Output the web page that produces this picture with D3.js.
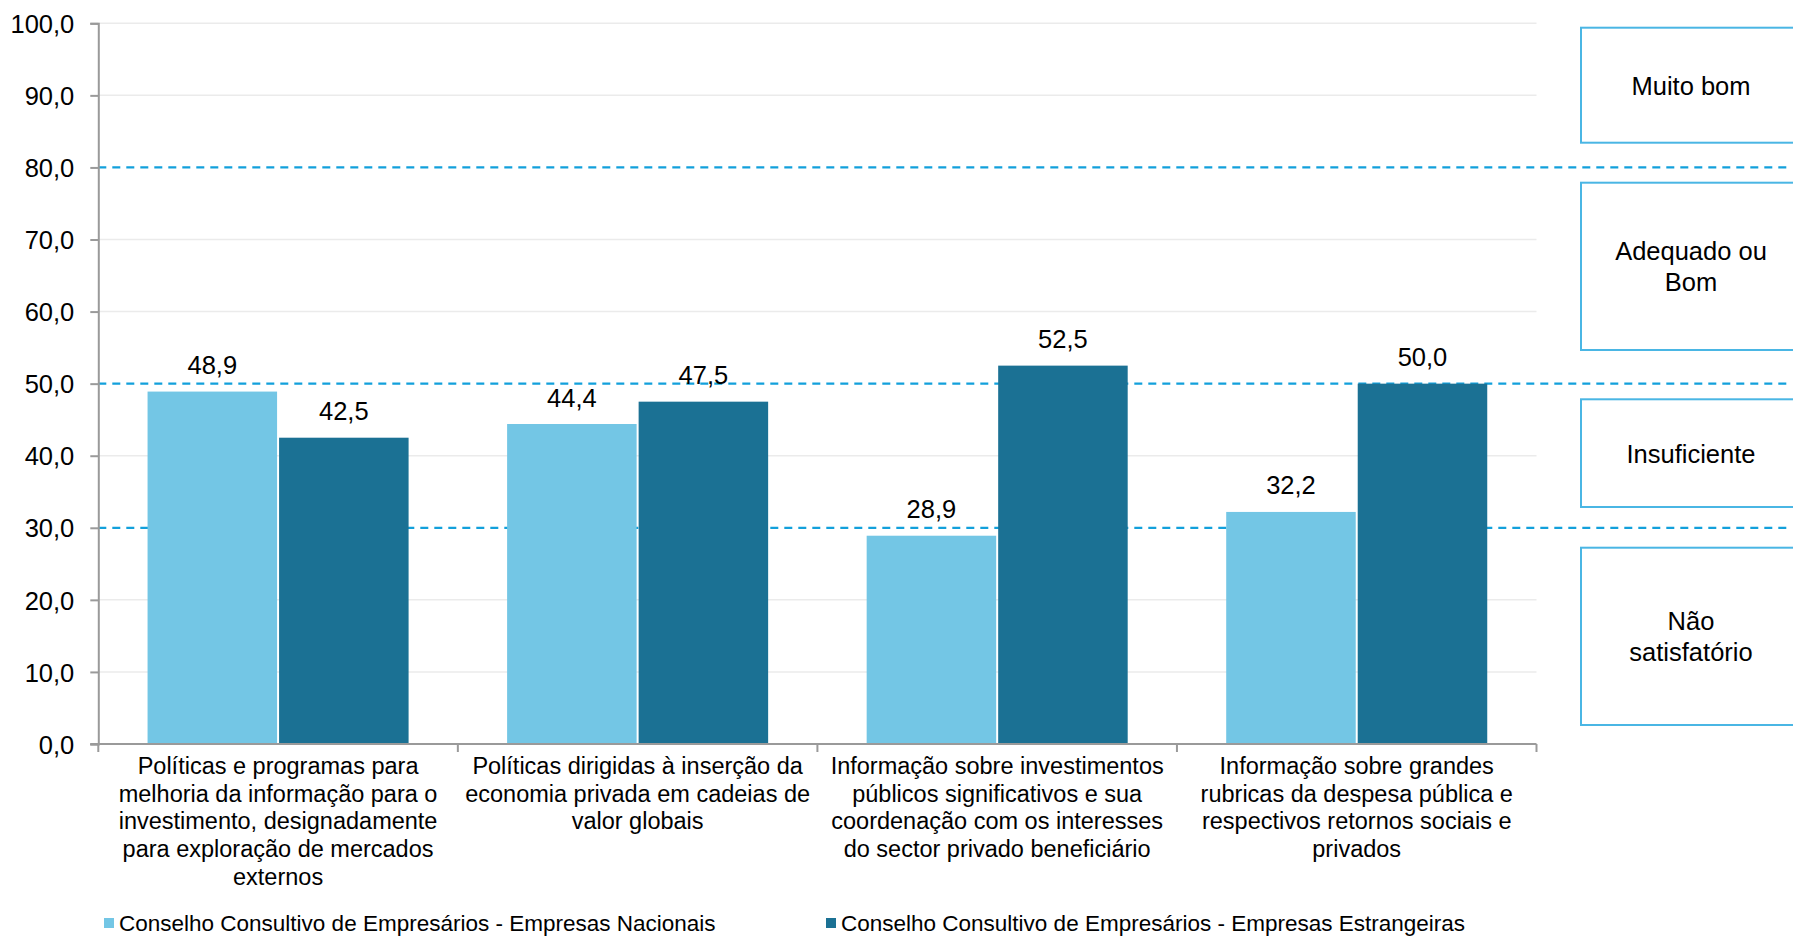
<!DOCTYPE html>
<html>
<head>
<meta charset="utf-8">
<script src="https://cdn.jsdelivr.net/npm/d3@7/dist/d3.min.js"></script>
<style>
  html, body { margin: 0; padding: 0; background: #fff; }
  svg { display: block; font-family: "Liberation Sans", Arial, sans-serif; }
</style>
</head>
<body>
<svg id="chart" width="1793" height="936"></svg>
<script>
// ---- data ----
const categories = [
  ["Políticas e programas para", "melhoria da informação para o", "investimento, designadamente", "para exploração de mercados", "externos"],
  ["Políticas dirigidas à inserção da", "economia privada em cadeias de", "valor globais"],
  ["Informação sobre investimentos", "públicos significativos e sua", "coordenação com os interesses", "do sector privado beneficiário"],
  ["Informação sobre grandes", "rubricas da despesa pública e", "respectivos retornos sociais e", "privados"]
];
const seriesNames = [
  "Conselho Consultivo de Empresários - Empresas Nacionais",
  "Conselho Consultivo de Empresários - Empresas Estrangeiras"
];
const nacionais = [48.9, 44.4, 28.9, 32.2];
const estrangeiras = [42.5, 47.5, 52.5, 50.0];
const yTicks = [0, 10, 20, 30, 40, 50, 60, 70, 80, 90, 100];
const thresholds = [30, 50, 80];
const ratingLabels = [["Muito bom"], ["Adequado ou", "Bom"], ["Insuficiente"], ["Não", "satisfatório"]];

// ---- layout ----
const colors = ["#73C6E5", "#1B7194"];
const plotL = 98.3, plotR = 1536.5, plotT = 23.3, plotB = 744;
const svg = d3.select("#chart");

const locale = d3.formatLocale({decimal: ",", thousands: ".", grouping: [3], currency: ["", "€"]});
const fmt = locale.format(".1f");

const y = d3.scaleLinear().domain([0, 100]).range([plotB, plotT]);
const x0 = d3.scaleBand().domain(d3.range(categories.length)).range([plotL, plotR]).padding(0);
const bw = x0.bandwidth();
const groupPad = bw * 0.137;
const x1 = d3.scaleBand().domain([0, 1]).range([groupPad, bw - groupPad]).paddingInner(0.0152);

// gridlines
svg.append("g").selectAll("line")
  .data(yTicks.filter(t => t > 0 && !thresholds.includes(t)))
  .join("line")
  .attr("x1", plotL).attr("x2", plotR)
  .attr("y1", d => y(d)).attr("y2", d => y(d))
  .attr("stroke", "#EBEBEB").attr("stroke-width", 1.5);

// threshold dashed lines
svg.append("g").selectAll("line")
  .data(thresholds)
  .join("line")
  .attr("x1", plotL).attr("x2", 1789)
  .attr("y1", d => y(d)).attr("y2", d => y(d))
  .attr("stroke", "#12A0DB").attr("stroke-width", 2.2)
  .attr("stroke-dasharray", "8,6");

// bars
const seriesData = [nacionais, estrangeiras];
const gBars = svg.append("g");
seriesData.forEach((vals, si) => {
  gBars.selectAll(".b" + si)
    .data(vals)
    .join("rect")
    .attr("x", (d, i) => x0(i) + x1(si))
    .attr("width", x1.bandwidth())
    .attr("y", d => y(d))
    .attr("height", d => y(0) - y(d))
    .attr("fill", colors[si]);
  gBars.selectAll(".l" + si)
    .data(vals)
    .join("text")
    .attr("x", (d, i) => x0(i) + x1(si) + x1.bandwidth() / 2)
    .attr("y", d => y(d) - 17.5)
    .attr("text-anchor", "middle")
    .attr("font-size", 25.5)
    .attr("fill", "#000")
    .text(d => fmt(d));
});

// y axis
const yAxis = d3.axisLeft(y).tickValues(yTicks).tickFormat(fmt).tickSize(8).tickPadding(16);
const gy = svg.append("g").attr("transform", `translate(${plotL},0)`).call(yAxis);
gy.select(".domain").attr("stroke", "#9A9A9A").attr("stroke-width", 2);
gy.selectAll(".tick line").attr("stroke", "#9A9A9A").attr("stroke-width", 2);
gy.selectAll(".tick text").attr("font-size", 25.5).attr("fill", "#000")
  .attr("font-family", "Liberation Sans, Arial, sans-serif").attr("dy", "0.36em");

// x axis
svg.append("line").attr("x1", plotL - 8).attr("x2", plotR).attr("y1", plotB).attr("y2", plotB)
  .attr("stroke", "#9A9A9A").attr("stroke-width", 2);
svg.append("g").selectAll("line")
  .data(d3.range(categories.length + 1))
  .join("line")
  .attr("x1", d => plotL + d * bw).attr("x2", d => plotL + d * bw)
  .attr("y1", plotB).attr("y2", plotB + 8)
  .attr("stroke", "#9A9A9A").attr("stroke-width", 2);

// category labels
const gCat = svg.append("g");
categories.forEach((lines, i) => {
  const t = gCat.append("text")
    .attr("text-anchor", "middle")
    .attr("font-size", 23.5)
    .attr("fill", "#000");
  lines.forEach((ln, k) => {
    t.append("tspan").attr("x", x0(i) + bw / 2).attr("y", 774 + k * 27.7).text(ln);
  });
});

// rating boxes
const boxes = [[27.7, 142.7], [182.7, 350], [399.3, 507], [547.7, 725]];
const gBox = svg.append("g");
ratingLabels.forEach((lines, i) => {
  const [t0, t1] = boxes[i];
  gBox.append("rect").attr("x", 1581).attr("y", t0).attr("width", 240).attr("height", t1 - t0)
    .attr("fill", "none").attr("stroke", "#4AB6E4").attr("stroke-width", 2);
  const cy = (t0 + t1) / 2;
  const lh = 31;
  const txt = gBox.append("text").attr("text-anchor", "middle").attr("font-size", 25.5).attr("fill", "#000");
  lines.forEach((ln, k) => {
    txt.append("tspan").attr("x", 1691)
      .attr("y", cy + 9.5 + (k - (lines.length - 1) / 2) * lh).text(ln);
  });
});

// legend
const legX = [104, 826];
const gLeg = svg.append("g");
seriesNames.forEach((name, i) => {
  gLeg.append("rect").attr("x", legX[i]).attr("y", 918).attr("width", 10).attr("height", 10).attr("fill", colors[i]);
  gLeg.append("text").attr("x", legX[i] + 15).attr("y", 930.5).attr("font-size", 22.5).attr("fill", "#000").text(name);
});
</script>
</body>
</html>
